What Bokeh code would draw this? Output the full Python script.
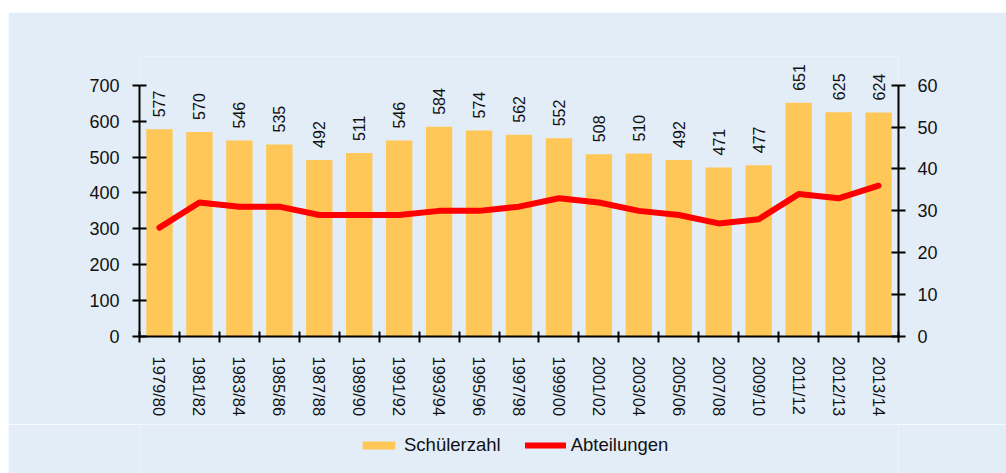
import math
from bokeh.plotting import figure
from bokeh.models import (Range1d, LinearAxis, FixedTicker, Legend, LegendItem,
                          ColumnDataSource, Spacer)
from bokeh.layouts import column, row
from bokeh.core.properties import value
from bokeh.embed import file_html
from bokeh.resources import INLINE

categories = ["1979/80", "1981/82", "1983/84", "1985/86", "1987/88", "1989/90",
              "1991/92", "1993/94", "1995/96", "1997/98", "1999/00", "2001/02",
              "2003/04", "2005/06", "2007/08", "2009/10", "2011/12", "2012/13",
              "2013/14"]
schuelerzahl = [577, 570, 546, 535, 492, 511, 546, 584, 574, 562, 552, 508,
                510, 492, 471, 477, 651, 625, 624]
abteilungen = [26, 32, 31, 31, 29, 29, 29, 30, 30, 31, 33, 32, 30, 29, 27, 28,
               34, 33, 36]
left_ticks = [0, 100, 200, 300, 400, 500, 600, 700]
right_ticks = [0, 10, 20, 30, 40, 50, 60]
series_names = ["Schülerzahl", "Abteilungen"]

BG = "#E3EDF7"
BAR = "#FFC757"
RED = "#FF0000"
FONT = "Liberation Sans"

n = len(categories)
idx = list(range(n))
src = ColumnDataSource(dict(x=idx, s=schuelerzahl, a=abteilungen,
                            lbl=[str(v) for v in schuelerzahl]))

# head-room above the axes so the bar labels are not clipped
Y_MAX = left_ticks[-1]
R_MAX = right_ticks[-1]
HEAD = 780 / 700

p = figure(frame_width=759, frame_height=280, output_backend="svg",
           toolbar_location=None,
           x_range=Range1d(-0.5, n - 0.5), y_range=Range1d(0, Y_MAX * HEAD),
           x_axis_type=None, y_axis_type=None,
           min_border_left=131, min_border_right=108,
           min_border_top=44, min_border_bottom=88)
p.extra_y_ranges = {"right": Range1d(0, R_MAX * HEAD)}
p.background_fill_color = BG
p.border_fill_color = BG
p.outline_line_color = None


def style_axis(ax):
    ax.axis_line_color = "black"
    ax.axis_line_width = 2
    ax.major_tick_line_color = "black"
    ax.major_tick_line_width = 2
    ax.minor_tick_line_color = "black"
    ax.minor_tick_line_width = 2
    ax.major_label_text_font = FONT
    ax.major_label_text_color = "#111111"


left = LinearAxis(ticker=FixedTicker(ticks=left_ticks, minor_ticks=[]),
                  bounds=(0, Y_MAX))
style_axis(left)
left.major_tick_in = 7
left.major_tick_out = 7
left.major_label_standoff = 13
left.major_label_text_font_size = "18px"
p.add_layout(left, "left")

right = LinearAxis(y_range_name="right",
                   ticker=FixedTicker(ticks=right_ticks, minor_ticks=[]),
                   bounds=(0, R_MAX))
style_axis(right)
right.major_tick_in = 7
right.major_tick_out = 7
right.major_label_standoff = 12
right.major_label_text_font_size = "18px"
p.add_layout(right, "right")

bottom = LinearAxis(ticker=FixedTicker(ticks=idx,
                                       minor_ticks=[i - 0.5 for i in range(n + 1)]))
style_axis(bottom)
bottom.major_tick_in = 0
bottom.major_tick_out = 0
bottom.minor_tick_in = 5
bottom.minor_tick_out = 6
bottom.major_label_overrides = {i: c for i, c in zip(idx, categories)}
bottom.major_label_orientation = "vertical"
bottom.major_label_standoff = 14
bottom.major_label_text_font_size = "16.5px"
p.add_layout(bottom, "below")

p.vbar(x="x", top="s", width=0.66, source=src, fill_color=BAR, line_color=None)
p.line(x="x", y="a", source=src, y_range_name="right", line_color=RED,
       line_width=6, line_join="round", line_cap="round")

p.text(x="x", y="s", text="lbl", source=src, angle=math.pi / 2,
       text_align="left", text_baseline="middle", y_offset=-12,
       text_font=value(FONT), text_font_size="16px", text_color="#111111")

# ---- legend strip (separate small figure holding only the legend) ----
q = figure(width=998, height=49, output_backend="svg", toolbar_location=None,
           x_range=Range1d(-0.5, n - 0.5), y_range=Range1d(0, Y_MAX),
           x_axis_type=None, y_axis_type=None,
           min_border_left=0, min_border_right=0, min_border_top=0,
           min_border_bottom=0)
q.background_fill_color = BG
q.border_fill_color = BG
q.outline_line_color = None
# hidden copies of the two series: only their legend swatches are shown
lb = q.vbar(x="x", top="s", width=0.66, source=src, fill_color=BAR,
            line_color=None, visible=False)
ll = q.line(x="x", y="a", source=src, line_color=RED, line_width=6,
            line_cap="round", visible=False)

legend = Legend(items=[LegendItem(label=series_names[0], renderers=[lb]),
                       LegendItem(label=series_names[1], renderers=[ll])],
                orientation="horizontal", location=(219, 17),
                glyph_width=41, glyph_height=10, label_standoff=5, spacing=24,
                padding=0, margin=0, border_line_color=None,
                background_fill_alpha=0, inactive_fill_alpha=0,
                label_text_font=FONT,
                label_text_font_size="18.5px", label_text_color="#111111")
q.add_layout(legend, "center")

layout = column(Spacer(height=12, width=10),
                row(Spacer(width=8, height=10), column(p, q, spacing=0),
                    spacing=0),
                spacing=0)
open("out.html", "w").write(file_html(layout, INLINE))
